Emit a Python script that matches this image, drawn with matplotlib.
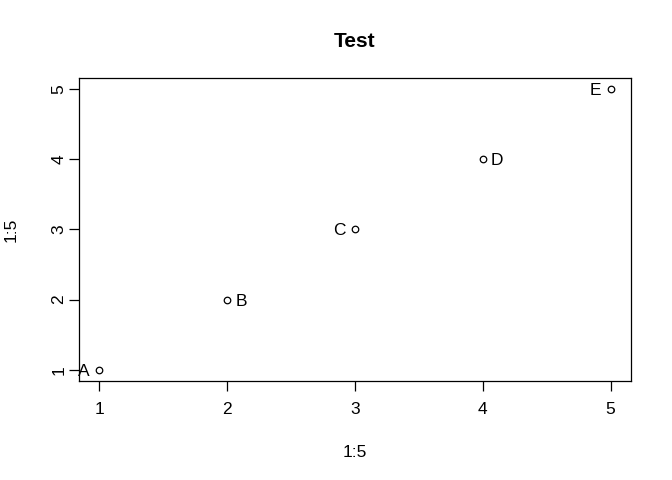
import matplotlib.pyplot as plt

plt.rcParams['font.family'] = ['Liberation Sans', 'DejaVu Sans']

# data
xs = [1, 2, 3, 4, 5]
ys = [1, 2, 3, 4, 5]
labels = ['A', 'B', 'C', 'D', 'E']
sides = ['left', 'right', 'left', 'right', 'left']

fig = plt.figure(figsize=(6.72, 4.8), dpi=100)
ax = fig.add_axes([79 / 672, 1 - 381 / 480, 552 / 672, 303 / 480])

ax.scatter(xs, ys, s=22, facecolors='white', edgecolors='black', linewidths=0.9, zorder=3)

for x, y, lab, side in zip(xs, ys, labels, sides):
    dx = -7 if side == 'left' else 6
    ha = 'right' if side == 'left' else 'left'
    ax.annotate(lab, (x, y), xytext=(dx, 0), textcoords='offset points',
                ha=ha, va='center_baseline', fontsize=12.5, color='black')

ax.set_xlim(0.84, 5.16)
ax.set_ylim(0.84, 5.16)
ax.set_xticks(xs)
ax.set_yticks(ys)
ax.tick_params(direction='out', length=7, width=0.9, labelsize=12.5)
ax.tick_params(axis='x', pad=8)
ax.tick_params(axis='y', pad=2)
for lab in ax.get_yticklabels():
    lab.set_rotation(90)
    lab.set_va('center')
for sp in ax.spines.values():
    sp.set_linewidth(0.9)

ax.set_xlabel('1:5', fontsize=12.5, labelpad=20)
ax.set_ylabel('1:5', fontsize=12.5, labelpad=24)
ax.set_title('Test', fontsize=15, fontweight='bold', pad=22)

fig.savefig('out.png', dpi=100)
